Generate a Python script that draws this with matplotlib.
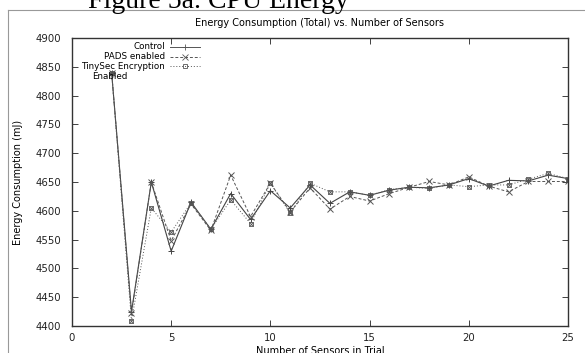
import matplotlib
matplotlib.use("Agg")
import matplotlib.pyplot as plt
from matplotlib.lines import Line2D

# ---- data ----
sensors = list(range(2, 26))
control = [4840, 4425, 4650, 4530, 4615, 4568, 4630, 4585, 4635, 4605, 4645, 4613,
           4633, 4627, 4636, 4641, 4640, 4645, 4656, 4643, 4653, 4652, 4662, 4656]
pads = [4840, 4422, 4650, 4548, 4612, 4566, 4662, 4590, 4648, 4598, 4640, 4603,
        4625, 4617, 4630, 4641, 4651, 4645, 4659, 4643, 4633, 4651, 4651, 4651]
tinysec = [4840, 4409, 4605, 4563, 4614, 4568, 4619, 4578, 4648, 4596, 4648, 4633,
           4633, 4627, 4637, 4641, 4639, 4645, 4642, 4645, 4645, 4655, 4665, 4656]
xticks = [0, 5, 10, 15, 20, 25]
yticks = list(range(4400, 4901, 50))

plt.rcParams['font.family'] = ['DejaVu Sans']

fig = plt.figure(figsize=(5.85, 3.53), dpi=100, facecolor="white")
ax = fig.add_axes([0.123, 0.0765, 0.848, 0.8155])

# series
ax.plot(sensors, control, color="#444444", lw=0.8, ls="-", marker="+", ms=4, mew=0.7)
ax.plot(sensors, pads, color="#555555", lw=0.7, ls=(0, (3, 2)), marker="x", ms=4, mew=0.7)
ax.plot(sensors, tinysec, color="#555555", lw=0.7, ls=(0, (1, 2)), marker="s", ms=3,
        mfc="none", mew=0.6)
ax.plot(sensors, tinysec, color="#555555", lw=0, marker="x", ms=2.5, mew=0.6)

ax.set_xlim(0, 25)
ax.set_ylim(4400, 4900)
ax.set_xticks(xticks)
ax.set_yticks(yticks)
ax.tick_params(direction="in", top=True, right=True, length=4, width=0.6,
               labelsize=7.3, colors="#222222")
ax.tick_params(axis="y", pad=8)
ax.tick_params(axis="x", pad=5)
for s in ax.spines.values():
    s.set_linewidth(1.0)
    s.set_color("#333333")

ax.set_title("Energy Consumption (Total) vs. Number of Sensors", fontsize=7, pad=9)
ax.set_xlabel("Number of Sensors in Trial", fontsize=7, labelpad=2)
ax.set_ylabel("Energy Consumption (mJ)", fontsize=7, labelpad=9)

# gnuplot-style legend (top left)
leg = [("Control", "-", "+", 0.970), ("PADS enabled", (0, (3, 2)), "x", 0.936),
       ("TinySec Encryption", (0, (1, 2)), "s", 0.902)]
for label, ls, mk, yy in leg:
    ax.text(0.188, yy, label, transform=ax.transAxes, ha="right", va="center", fontsize=6.3)
    ax.add_line(Line2D([0.198, 0.258], [yy, yy], transform=ax.transAxes, color="#555555",
                       lw=0.7, ls=ls))
    ax.add_line(Line2D([0.228], [yy], transform=ax.transAxes, color="#555555", lw=0,
                       marker=mk, ms=3 if mk == "s" else 4, mfc="none", mew=0.6))
ax.text(0.04, 0.868, "Enabled", transform=ax.transAxes, ha="left", va="center", fontsize=6.3)

# outer frame and clipped caption
fig.add_artist(Line2D([8 / 585, 8 / 585], [0, 1 - 10 / 353], transform=fig.transFigure,
                      color="#999999", lw=0.8))
fig.add_artist(Line2D([8 / 585, 1], [1 - 10 / 353, 1 - 10 / 353], transform=fig.transFigure,
                      color="#999999", lw=0.8))
fig.text(88 / 585, 1 - 8 / 353, "Figure 5a. CPU Energy", family="Liberation Serif",
         fontsize=20, ha="left", va="baseline")

fig.savefig("out.png", dpi=100)
